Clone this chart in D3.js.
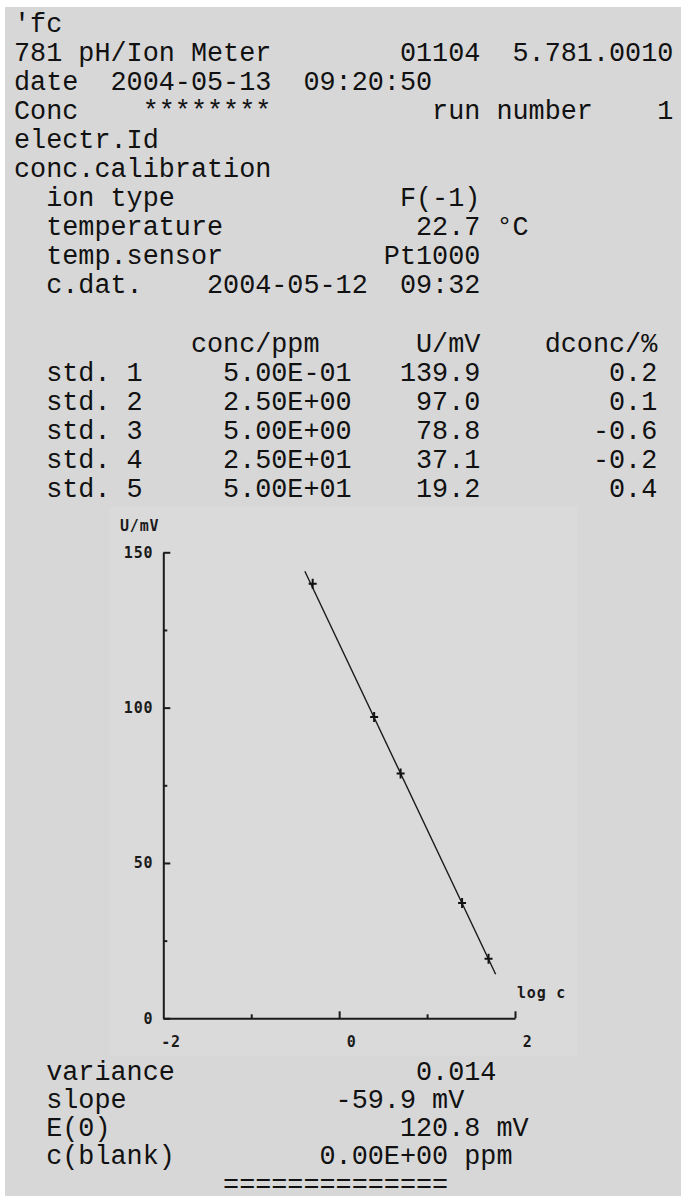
<!DOCTYPE html>
<html>
<head>
<meta charset="utf-8">
<script src="https://cdn.jsdelivr.net/npm/d3@7"></script>
<style>
  body { margin: 0; background: #fff; }
  svg { display: block; }
</style>
</head>
<body>
<svg id="chart"></svg>
<script>
// report header values
const meterInfo = ["781 pH/Ion Meter", "01104", "5.781.0010"];
const runDate = ["2004-05-13", "09:20:50"];
const runNumber = "1";
const ionType = "F(-1)";
const temperature = "22.7";
const tempSensor = "Pt1000";
const calDate = ["2004-05-12", "09:32"];

// calibration standards
const stdNames = ["std. 1", "std. 2", "std. 3", "std. 4", "std. 5"];
const stdConc = [0.5, 2.5, 5, 25, 50];
const stdConcLabels = ["5.00E-01", "2.50E+00", "5.00E+00", "2.50E+01", "5.00E+01"];
const stdU = [139.9, 97.0, 78.8, 37.1, 19.2];
const stdDconc = ["0.2", "0.1", "-0.6", "-0.2", "0.4"];

// fitted calibration line (ends)
const fitLogC = [-0.39, 1.78];
const fitU = [143.9, 14.2];

// axes
const xTicks = [-2, 0, 2];
const xMinorTicks = [-1, 1];
const yTicks = [0, 50, 100, 150];
const yMinorTicks = [25, 75, 125];

// results
const variance = "0.014";
const slope = "-59.9";
const e0 = "120.8";
const cBlank = "0.00E+00";

const width = 681, height = 1196;
const CW = 16.1, X0 = 14, Y0 = 31.5, LH = 29.1;

const svg = d3.select("#chart").attr("width", width).attr("height", height);

svg.append("rect")
    .attr("x", 5).attr("y", 7)
    .attr("width", width - 5).attr("height", height - 7)
    .attr("fill", "#d7d7d7");

// build monospace report lines
const topLines = [
    "'fc",
    meterInfo[0].padEnd(24) + meterInfo[1].padEnd(7) + meterInfo[2],
    "date  " + runDate[0] + "  " + runDate[1],
    "Conc    ********".padEnd(26) + "run number".padEnd(14) + runNumber,
    "electr.Id",
    "conc.calibration",
    "  ion type".padEnd(24) + ionType,
    "  temperature".padEnd(25) + temperature + " °C",
    "  temp.sensor".padEnd(23) + tempSensor,
    "  c.dat.".padEnd(12) + calDate[0] + "  " + calDate[1],
    "",
    "conc/ppm".padStart(19) + "U/mV".padStart(10) + "dconc/%".padStart(11)
];
stdNames.forEach((n, i) => {
    topLines.push(("  " + n).padEnd(13) + stdConcLabels[i] +
        stdU[i].toFixed(1).padStart(8) + stdDconc[i].padStart(11));
});

const bottomLines = [
    "  variance".padEnd(25) + variance,
    "  slope".padEnd(20) + slope + " mV",
    "  E(0)".padEnd(24) + e0 + " mV",
    "  c(blank)".padEnd(19) + cBlank + " ppm",
    " ".repeat(13) + "=".repeat(14)
];

const textRows = topLines.map((t, i) => ({ t, y: Y0 + i * LH }))
    .concat(bottomLines.map((t, i) => ({ t, y: 1079.5 + i * 28.3 })));

svg.append("g").selectAll("text")
    .data(textRows)
    .enter().append("text")
    .attr("x", X0)
    .attr("y", d => d.y)
    .attr("xml:space", "preserve")
    .style("white-space", "pre")
    .attr("font-family", "'Liberation Mono', 'DejaVu Sans Mono', monospace")
    .attr("font-size", 26.8)
    .attr("fill", "#111")
    .text(d => d.t);

// plot box
svg.append("rect")
    .attr("x", 110).attr("y", 507)
    .attr("width", 467).attr("height", 549)
    .attr("fill", "#dadada");

const x = d3.scaleLinear().domain([-2, 2]).range([163.3, 515]);
const y = d3.scaleLinear().domain([0, 150]).range([1018.3, 552.3]);

const axisFont = "'DejaVu Sans Mono', monospace";

const yAxis = svg.append("g")
    .attr("transform", `translate(${x(-2)},0)`)
    .call(d3.axisLeft(y).tickValues(yTicks).tickSize(-7).tickSizeOuter(0).tickPadding(10));
yAxis.select(".domain").attr("stroke-width", 2);
svg.append("g")
    .attr("transform", `translate(${x(-2)},0)`)
    .call(d3.axisLeft(y).tickValues(yMinorTicks).tickSize(-4).tickFormat(""))
    .select(".domain").remove();

const xAxis = svg.append("g")
    .attr("transform", `translate(0,${y(0)})`)
    .call(d3.axisBottom(x).tickValues(xTicks).tickSize(-7).tickSizeOuter(0).tickFormat(d3.format("d")));
xAxis.select(".domain").attr("stroke-width", 2);
xAxis.selectAll(".tick").filter(d => d === -2).select("line").remove();
xAxis.selectAll("text")
    .attr("text-anchor", "end")
    .attr("x", 17)
    .attr("y", 29)
    .attr("dy", null)
    .text(d => d < 0 ? "-" + Math.abs(d) : d);
svg.append("g")
    .attr("transform", `translate(0,${y(0)})`)
    .call(d3.axisBottom(x).tickValues(xMinorTicks).tickSize(-4).tickFormat(""))
    .select(".domain").remove();

svg.selectAll(".tick line").attr("stroke", "#1a1a1a").attr("stroke-width", 2);
svg.selectAll(".domain").attr("stroke", "#1a1a1a");
[xAxis, yAxis].forEach(g => g
    .attr("font-family", axisFont)
    .attr("font-size", 15)
    .selectAll("text")
    .attr("fill", "#1a1a1a")
    .attr("font-weight", "bold")
    .attr("letter-spacing", 0.8));

svg.append("text")
    .attr("x", 120).attr("y", 531)
    .attr("font-family", axisFont).attr("font-size", 15)
    .attr("font-weight", "bold")
    .attr("letter-spacing", 0.8).attr("fill", "#1a1a1a")
    .text("U/mV");

svg.append("text")
    .attr("x", 517).attr("y", 998)
    .attr("font-family", axisFont).attr("font-size", 15)
    .attr("font-weight", "bold")
    .attr("letter-spacing", 0.8).attr("fill", "#1a1a1a")
    .text("log c");

// calibration line
const line = d3.line().x(d => x(d[0])).y(d => y(d[1]));
svg.append("path")
    .datum(fitLogC.map((v, i) => [v, fitU[i]]))
    .attr("d", line)
    .attr("fill", "none")
    .attr("stroke", "#1a1a1a")
    .attr("stroke-width", 1.4);

// standards as crosses
svg.selectAll(".pt")
    .data(stdConc.map((c, i) => ({ lc: Math.log10(c), u: stdU[i] })))
    .enter().append("path")
    .attr("class", "pt")
    .attr("d", d => {
        const px = x(d.lc), py = y(d.u);
        return `M${px - 4},${py}h8M${px},${py - 5}v10`;
    })
    .attr("stroke", "#111")
    .attr("stroke-width", 2)
    .attr("fill", "none");
</script>
</body>
</html>
